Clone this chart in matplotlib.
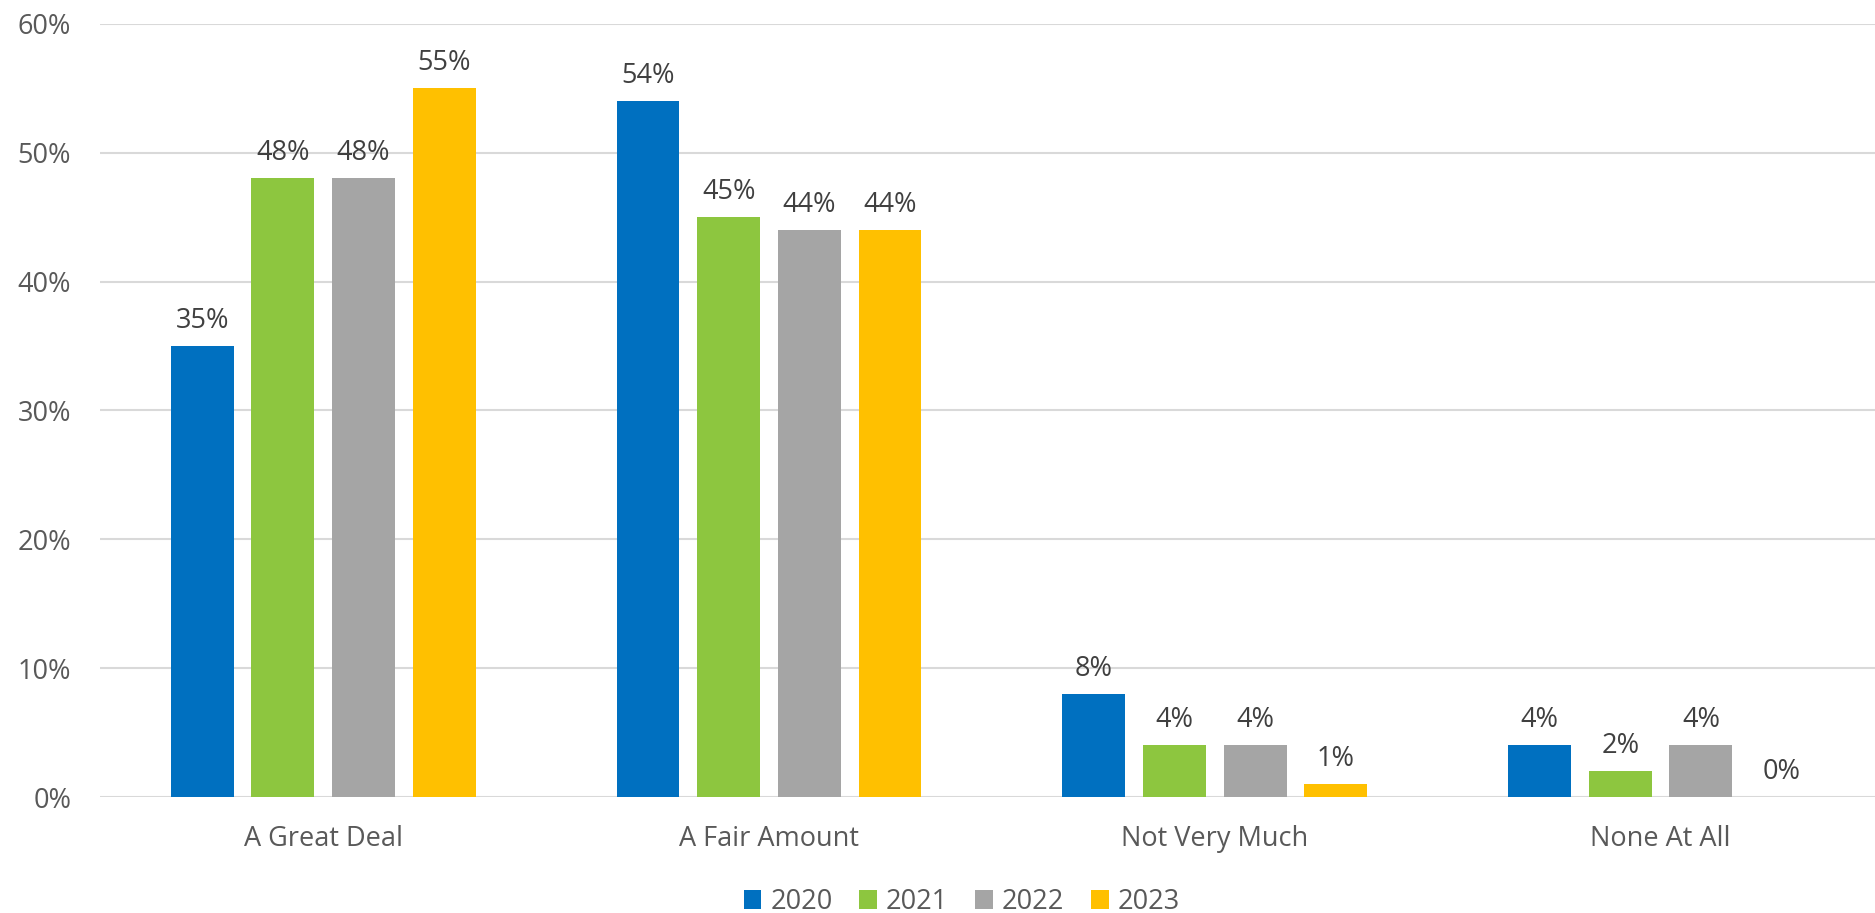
import numpy as np
import matplotlib
matplotlib.use('Agg')
import matplotlib.pyplot as plt
from matplotlib.ticker import PercentFormatter

categories = ['A Great Deal', 'A Fair Amount', 'Not Very Much', 'None At All']
years = ['2020', '2021', '2022', '2023']
v2020 = [35, 54, 8, 4]
v2021 = [48, 45, 4, 2]
v2022 = [48, 44, 4, 4]
v2023 = [55, 44, 1, 0]
colors = ['#0070C0', '#8DC63F', '#A5A5A5', '#FFC000']

plt.rcParams['font.family'] = ['Open Sans', 'DejaVu Sans']

fig = plt.figure(figsize=(18.75, 9.13), dpi=100)
ax = fig.add_axes([0.0535, 0.127, 0.951, 0.847])

x = np.arange(len(categories))
step = 0.181
width = 0.141
for i, (vals, yr, c) in enumerate(zip([v2020, v2021, v2022, v2023], years, colors)):
    pos = x + (i - 1.5) * step
    bars = ax.bar(pos, vals, width, color=c, label=yr, zorder=3)
    for b, v in zip(bars, vals):
        ax.annotate(f'{v}%', (b.get_x() + b.get_width() / 2, v),
                    xytext=(0, 8), textcoords='offset points',
                    ha='center', va='bottom', fontsize=19.5, color='#404040')

ax.set_xlim(-0.5, len(categories) - 0.5)
ax.set_ylim(0, 60)
ax.set_yticks(range(0, 61, 10))
ax.yaxis.set_major_formatter(PercentFormatter(decimals=0))
ax.set_xticks(x)
ax.set_xticklabels(categories)
ax.tick_params(axis='both', length=0, labelsize=19.5, labelcolor='#595959')
ax.tick_params(axis='y', pad=21)
ax.tick_params(axis='x', pad=20)
ax.grid(axis='y', color='#D9D9D9', linewidth=1.5, zorder=0)
for s in ax.spines.values():
    s.set_visible(False)

leg = fig.legend(loc='center', bbox_to_anchor=(0.513, 0.012), ncol=4,
                 frameon=False, fontsize=19.5, handlelength=0.65, handleheight=0.65,
                 handletextpad=0.33, columnspacing=1.0)
for t in leg.get_texts():
    t.set_color('#595959')

fig.savefig('out.png', dpi=100)
